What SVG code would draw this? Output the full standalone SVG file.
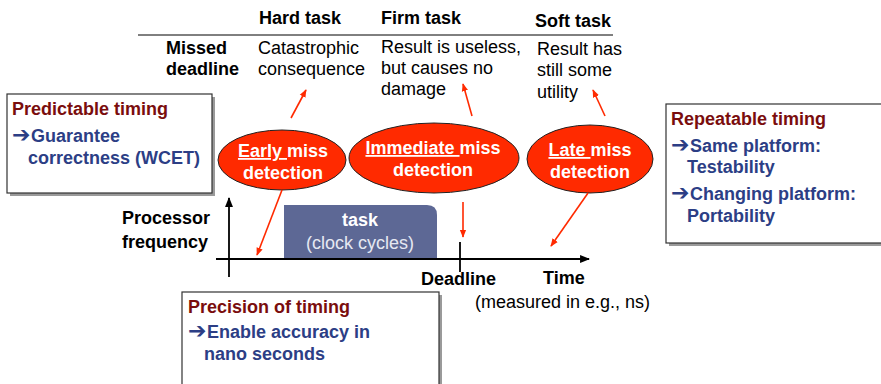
<svg xmlns="http://www.w3.org/2000/svg" width="881" height="384" viewBox="0 0 881 384">
<defs>
<style>
text{font-family:"Liberation Sans",Arial,"DejaVu Sans",sans-serif;font-size:18px;fill:#000}
.b{font-weight:bold}
.w{fill:#fff;font-weight:bold}
.t{fill:#7a0d0d;font-weight:bold;font-size:18px}
.bl{fill:#2c3e85;font-weight:bold;font-size:18px}
.ar{font-family:"DejaVu Sans",sans-serif;font-weight:bold;font-size:22px}
.box{fill:#fff;stroke:#333;stroke-width:1.2}
.sh{fill:#9a9a9a}
.ell{fill:#ff2a00;stroke:#222;stroke-width:1}
.red{stroke:#ff2a00;stroke-width:1.6;fill:none;marker-end:url(#rh)}
.ax{stroke:#000;stroke-width:1.8;fill:none}
.u{text-decoration:underline}
</style>
<marker id="rh" viewBox="0 0 10 10" refX="9" refY="5" markerWidth="5" markerHeight="5" orient="auto" markerUnits="strokeWidth">
<path d="M0,1 L10,5 L0,9 z" fill="#ff2a00"/>
</marker>
<marker id="bh" viewBox="0 0 10 10" refX="9" refY="5" markerWidth="5.5" markerHeight="5.5" orient="auto" markerUnits="strokeWidth">
<path d="M0,1 L10,5 L0,9 z" fill="#000"/>
</marker>
</defs>

<g id="table">
<line x1="138" y1="35" x2="613" y2="35" stroke="#000" stroke-width="1"/>
<text class="b" x="259" y="24">Hard task</text>
<text class="b" x="381" y="24">Firm task</text>
<text class="b" x="535" y="27">Soft task</text>
<text class="b" x="166" y="54">Missed</text>
<text class="b" x="166" y="75">deadline</text>
<text x="258" y="54">Catastrophic</text>
<text x="258" y="75">consequence</text>
<text x="381" y="53">Result is useless,</text>
<text x="381" y="74">but causes no</text>
<text x="381" y="95">damage</text>
<text x="537" y="55">Result has</text>
<text x="537" y="76">still some</text>
<text x="537" y="98">utility</text>
</g>

<g id="predictable">
<rect class="sh" x="10" y="97" width="205" height="99"/>
<rect class="box" x="7" y="94" width="205" height="99"/>
<text class="t" x="12" y="115">Predictable timing</text>
<text class="bl" x="12" y="142"><tspan class="ar">➔</tspan><tspan x="31">Guarantee</tspan></text>
<text class="bl" x="28" y="164">correctness (WCET)</text>
</g>

<g id="repeatable">
<rect class="sh" x="669" y="107" width="215" height="139"/>
<rect class="box" x="666" y="104" width="220" height="139"/>
<text class="t" x="671" y="125">Repeatable timing</text>
<text class="bl" x="671" y="152"><tspan class="ar">➔</tspan><tspan x="690">Same platform:</tspan></text>
<text class="bl" x="687" y="173">Testability</text>
<text class="bl" x="671" y="200"><tspan class="ar">➔</tspan><tspan x="690">Changing platform:</tspan></text>
<text class="bl" x="687" y="222">Portability</text>
</g>

<g id="precision">
<rect class="sh" x="185" y="295" width="257" height="100"/>
<rect class="box" x="182" y="292" width="257" height="100"/>
<text class="t" x="188" y="313">Precision of timing</text>
<text class="bl" x="188" y="338"><tspan class="ar">➔</tspan><tspan x="207">Enable accuracy in</tspan></text>
<text class="bl" x="204" y="360">nano seconds</text>
</g>

<g id="early">
<ellipse class="ell" cx="282" cy="160" rx="64" ry="30"/>
<text class="w" x="283" y="157" text-anchor="middle"><tspan class="u">Early </tspan>miss</text>
<text class="w" x="283" y="179" text-anchor="middle">detection</text>
</g>

<g id="immediate">
<ellipse class="ell" cx="434" cy="158" rx="85" ry="35"/>
<text class="w" x="433" y="154" text-anchor="middle"><tspan class="u">Immediate </tspan>miss</text>
<text class="w" x="433" y="176" text-anchor="middle">detection</text>
</g>

<g id="late">
<ellipse class="ell" cx="590" cy="159" rx="63" ry="34"/>
<text class="w" x="590" y="156" text-anchor="middle"><tspan class="u">Late </tspan>miss</text>
<text class="w" x="590" y="178" text-anchor="middle">detection</text>
</g>

<g id="chart">
<path d="M284,259 V205 H427 Q437,205 437,215 V259 Z" fill="#5d6895"/>
<text class="w" x="360" y="226" text-anchor="middle">task</text>
<text x="360" y="249" text-anchor="middle" style="fill:#e6e8f2">(clock cycles)</text>
<text class="b" x="122" y="224">Processor</text>
<text class="b" x="122" y="248">frequency</text>
<text class="b" x="421" y="285">Deadline</text>
<text class="b" x="543" y="284">Time</text>
<text x="475" y="308">(measured in e.g., ns)</text>
</g>

<g id="connectors">
<line class="ax" x1="229" y1="277" x2="229" y2="198" marker-end="url(#bh)"/>
<line class="ax" x1="216" y1="259" x2="589" y2="259" marker-end="url(#bh)"/>
<line class="ax" x1="460" y1="242" x2="460" y2="272"/>
<line class="red" x1="291" y1="118" x2="306" y2="90"/>
<line class="red" x1="472" y1="116" x2="463" y2="84"/>
<line class="red" x1="605" y1="116" x2="593" y2="90"/>
<line class="red" x1="282" y1="190" x2="257" y2="255"/>
<line class="red" x1="463" y1="202" x2="463" y2="237"/>
<line class="red" x1="588" y1="193" x2="551" y2="246"/>
</g>
</svg>
